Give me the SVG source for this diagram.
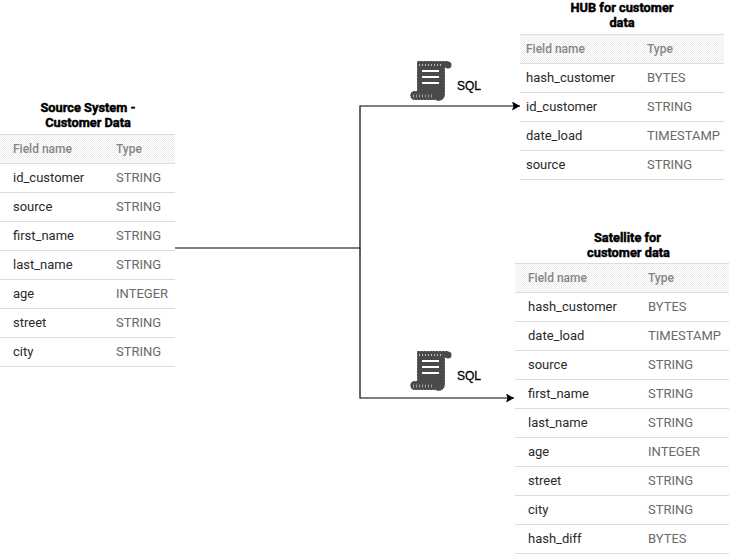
<svg xmlns="http://www.w3.org/2000/svg" width="731" height="557" viewBox="0 0 731 557">
<style>
text{font-family:Roboto,"Liberation Sans",sans-serif}
.t{font-size:12.8px;font-weight:700;fill:#000;text-anchor:middle;stroke:#000;stroke-width:.45px}
.h{font-size:12px;font-weight:500;fill:#858585}
.n{font-size:13px;fill:#2a2a2a}
.y{font-size:13px;fill:#6a6a6a}
.l{stroke:#dcdcdc;stroke-width:1;fill:none}
.c{stroke:#000;stroke-width:1.2;fill:none}
.s{font-size:12px;fill:#000;stroke:#000;stroke-width:.3px;font-family:"Liberation Sans",sans-serif}
</style>
<defs>
<pattern id="d" width="2" height="2" patternUnits="userSpaceOnUse"><rect width="2" height="2" fill="#fff"/><rect width="1" height="1" fill="#ececec"/><rect x="1" y="1" width="1" height="1" fill="#ececec"/></pattern>
<marker id="a" markerWidth="9" markerHeight="10" refX="8" refY="4.500" orient="auto" markerUnits="userSpaceOnUse"><path d="M0 0L8 4.500L0 9L1.500 4.500Z" fill="#000"/></marker>
<g id="scroll">
<path d="M7 1H38L35 6V34C35 41 28 42 26 40H4C-1 40-1 31 4 31H7Z" fill="#4a4a4a" stroke="#fff" stroke-width=".6" stroke-dasharray="1 2"/>
<circle cx="38" cy="5" r="3.500" fill="#4a4a4a"/>
<circle cx="29" cy="36" r="4" fill="#4a4a4a"/>
<path d="M12 11H29M12 17H29M12 23H29" stroke="#fff" stroke-width="2" fill="none"/>
<path d="M3 36H22" stroke="#a0a0a0" stroke-width="3" stroke-dasharray="1 2" fill="none"/>
<path d="M9 5H33" stroke="#bbb" stroke-width="2" stroke-dasharray="1 2" fill="none"/>
</g>
</defs>
<rect width="731" height="557" fill="#fff"/>
<g id="connectors">
<path class="c" d="M175 248H360V106H520" marker-end="url(#a)"/>
<path class="c" d="M360 248V398H514" marker-end="url(#a)"/>
</g>
<g id="sql-top"><use href="#scroll" x="410" y="60"/><text class="s" x="457" y="90">SQL</text></g>
<g id="sql-bottom"><use href="#scroll" x="410" y="350"/><text class="s" x="457" y="380">SQL</text></g>
<g id="source-table">
<text class="t" x="88" y="112">Source System -</text><text class="t" x="88" y="127">Customer Data</text>
<rect x="0" y="134" width="175" height="29" fill="url(#d)"/>
<path class="l" d="M0 134.500H175M0 163.500H175M0 192.500H175M0 221.500H175M0 250.500H175M0 279.500H175M0 308.500H175M0 337.500H175M0 366.500H175"/>
<text class="h" x="13" y="153">Field name</text><text class="h" x="116" y="153">Type</text>
<text class="n" x="13" y="182">id_customer</text><text class="y" x="116" y="182">STRING</text>
<text class="n" x="13" y="211">source</text><text class="y" x="116" y="211">STRING</text>
<text class="n" x="13" y="240">first_name</text><text class="y" x="116" y="240">STRING</text>
<text class="n" x="13" y="269">last_name</text><text class="y" x="116" y="269">STRING</text>
<text class="n" x="13" y="298">age</text><text class="y" x="116" y="298">INTEGER</text>
<text class="n" x="13" y="327">street</text><text class="y" x="116" y="327">STRING</text>
<text class="n" x="13" y="356">city</text><text class="y" x="116" y="356">STRING</text>
</g>
<g id="hub-table">
<text class="t" x="622" y="12">HUB for customer</text><text class="t" x="622" y="27">data</text>
<rect x="520" y="34" width="204" height="29" fill="url(#d)"/>
<path class="l" d="M520 34.500H724M520 63.500H724M520 92.500H724M520 121.500H724M520 150.500H724M520 179.500H724"/>
<text class="h" x="526" y="53">Field name</text><text class="h" x="647" y="53">Type</text>
<text class="n" x="526" y="82">hash_customer</text><text class="y" x="647" y="82">BYTES</text>
<text class="n" x="526" y="111">id_customer</text><text class="y" x="647" y="111">STRING</text>
<text class="n" x="526" y="140">date_load</text><text class="y" x="647" y="140">TIMESTAMP</text>
<text class="n" x="526" y="169">source</text><text class="y" x="647" y="169">STRING</text>
</g>
<g id="satellite-table">
<text class="t" x="627.500" y="242">Satellite for</text><text class="t" x="628.500" y="257">customer data</text>
<rect x="515" y="263" width="214" height="29" fill="url(#d)"/>
<path class="l" d="M515 263.500H729M515 292.500H729M515 321.500H729M515 350.500H729M515 379.500H729M515 408.500H729M515 437.500H729M515 466.500H729M515 495.500H729M515 524.500H729M515 553.500H729"/>
<text class="h" x="528" y="282">Field name</text><text class="h" x="648" y="282">Type</text>
<text class="n" x="528" y="311">hash_customer</text><text class="y" x="648" y="311">BYTES</text>
<text class="n" x="528" y="340">date_load</text><text class="y" x="648" y="340">TIMESTAMP</text>
<text class="n" x="528" y="369">source</text><text class="y" x="648" y="369">STRING</text>
<text class="n" x="528" y="398">first_name</text><text class="y" x="648" y="398">STRING</text>
<text class="n" x="528" y="427">last_name</text><text class="y" x="648" y="427">STRING</text>
<text class="n" x="528" y="456">age</text><text class="y" x="648" y="456">INTEGER</text>
<text class="n" x="528" y="485">street</text><text class="y" x="648" y="485">STRING</text>
<text class="n" x="528" y="514">city</text><text class="y" x="648" y="514">STRING</text>
<text class="n" x="528" y="543">hash_diff</text><text class="y" x="648" y="543">BYTES</text>
</g>
</svg>
